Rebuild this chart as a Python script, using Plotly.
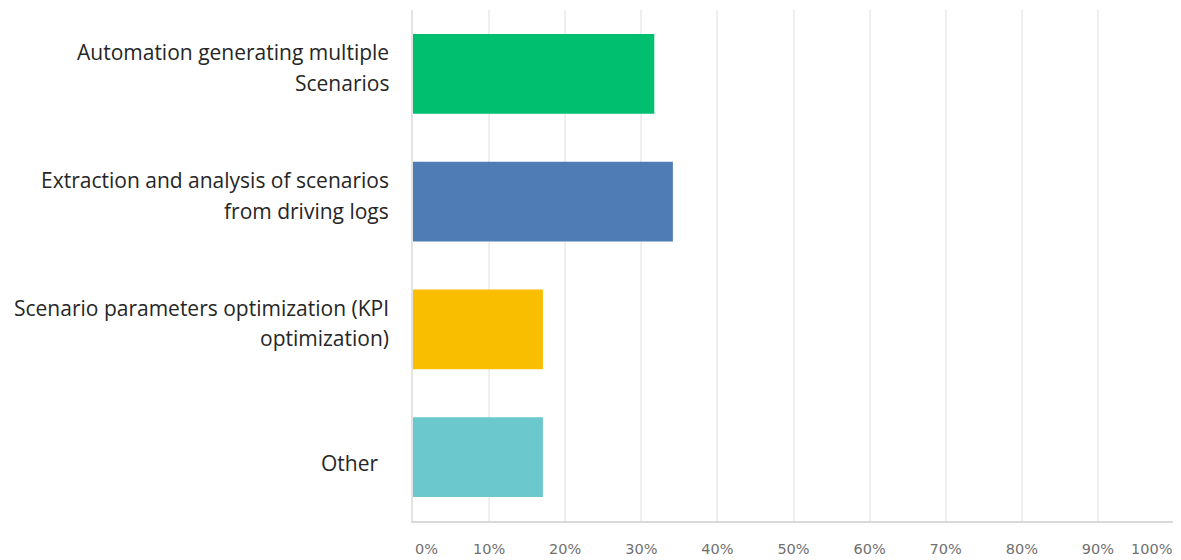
import plotly.graph_objects as go

label_lines = [
    ["Automation generating multiple", "Scenarios"],
    ["Extraction and analysis of scenarios", "from driving logs"],
    ["Scenario parameters optimization (KPI", "optimization)"],
    ["Other\u00a0\u00a0"],
]
categories = [" ".join(l).strip() for l in label_lines]
values = [31.71, 34.15, 17.07, 17.07]
colors = ["#00BF6F", "#507CB6", "#F9BE00", "#6BC8CD"]

tick_vals = [10, 20, 30, 40, 50, 60, 70, 80, 90]
tick_text = ["10%", "20%", "30%", "40%", "50%", "60%", "70%", "80%", "90%"]
end_ticks = [(0, "0%", "left"), (100, "100%", "right")]

label_font = dict(family="Open Sans", size=21, color="#262626")
tick_font = dict(family="DejaVu Sans", size=14.5, color="#707070")

fig = go.Figure(
    go.Bar(
        x=values,
        y=categories,
        orientation="h",
        marker=dict(color=colors, line=dict(width=0)),
        hoverinfo="skip",
    )
)

annotations = []
for cat, lines in zip(categories, label_lines):
    if len(lines) == 2:
        shifts = [21.5, -9]
    else:
        shifts = [-5.5]
    for line, ys in zip(lines, shifts):
        annotations.append(dict(
            text=line, xref="paper", x=0, xanchor="right", xshift=-22,
            yref="y", y=cat, yanchor="middle", yshift=ys,
            showarrow=False, font=label_font,
        ))
for xv, txt, anc in end_ticks:
    annotations.append(dict(
        text=txt, xref="x", x=xv, xanchor=anc,
        yref="paper", y=0, yanchor="middle", yshift=-28,
        showarrow=False, font=tick_font,
    ))

fig.update_layout(
    width=1173,
    height=552,
    margin=dict(l=405, r=7, t=2, b=39),
    paper_bgcolor="white",
    plot_bgcolor="white",
    bargap=0.375,
    showlegend=False,
    annotations=annotations,
)

fig.update_xaxes(
    range=[0, 100],
    tickvals=tick_vals,
    ticktext=tick_text,
    tickfont=tick_font,
    showgrid=True,
    gridcolor="#efefef",
    gridwidth=1.5,
    zeroline=False,
    showline=True,
    linecolor="#d9d9d9",
    linewidth=2,
    ticks="",
    ticklabelstandoff=14,
    automargin=False,
    fixedrange=True,
)

fig.update_yaxes(
    autorange="reversed",
    showticklabels=False,
    showgrid=False,
    zeroline=False,
    showline=True,
    linecolor="#e3e3e3",
    linewidth=1.5,
    ticks="",
    automargin=False,
    fixedrange=True,
)

fig.write_html("out.html")
